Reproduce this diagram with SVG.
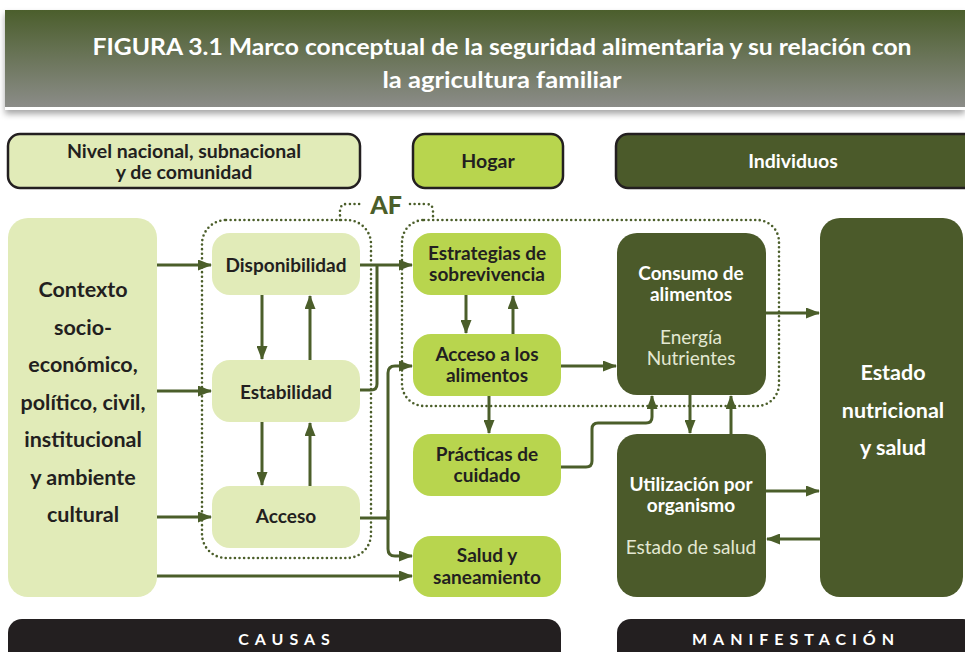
<svg xmlns="http://www.w3.org/2000/svg" width="965" height="652" viewBox="0 0 965 652">
<defs>
<linearGradient id="tg" x1="0" y1="0" x2="0" y2="1">
<stop offset="0" stop-color="#4b5e2c"/>
<stop offset="1" stop-color="#8b8c88"/>
</linearGradient>
<filter id="sh" x="-5%" y="-20%" width="110%" height="150%">
<feDropShadow dx="0" dy="4" stdDeviation="3" flood-color="#000" flood-opacity="0.35"/>
</filter>
<marker id="ah" viewBox="0 0 14 11" refX="13" refY="5.5" markerWidth="14" markerHeight="11" orient="auto" markerUnits="userSpaceOnUse">
<path d="M0,0 L14,5.5 L0,11 Z" fill="#4b5e2a"/>
</marker>
</defs>
<style>
text{font-family:"Lato","Liberation Sans",sans-serif;text-anchor:middle}
.b{font-weight:bold}
.dk{fill:#231f20}
.wh{fill:#ffffff}
.lt{fill:#e3e8d2;font-weight:normal}
.light{fill:#e1ebb8}
.lime{fill:#b8d54e}
.dark{fill:#4b5a2a}
.hdr{stroke:#231f20;stroke-width:2.5}
.bar{fill:#231f20}
.c{fill:none;stroke:#4b5e2a;stroke-width:3;marker-end:url(#ah)}
.cn{fill:none;stroke:#4b5e2a;stroke-width:3}
.dot{fill:none;stroke:#4b5e2a;stroke-width:2.6;stroke-dasharray:0 4.6;stroke-linecap:round}
.t17{font-size:19px}
.th{font-size:19.5px}
.t20{font-size:21.5px}
.sp{font-size:16px;letter-spacing:6px;font-weight:bold}
</style>

<g id="title">
<rect x="5" y="10" width="960" height="100" fill="#ffffff" filter="url(#sh)"/>
<rect x="5" y="10" width="960" height="97" fill="url(#tg)"/>
<text x="502" y="55" class="b wh" font-size="23" textLength="819" lengthAdjust="spacingAndGlyphs">FIGURA 3.1  Marco conceptual de la seguridad alimentaria y su relación con</text>
<text x="502" y="88" class="b wh" font-size="23" textLength="239" lengthAdjust="spacingAndGlyphs">la agricultura familiar</text>
</g>

<g id="hdr-nivel">
<rect x="8" y="134" width="352" height="54" rx="12" class="light hdr"/>
<text x="184" y="158" class="b dk th">Nivel nacional, subnacional</text>
<text x="184" y="179" class="b dk th">y de comunidad</text>
</g>
<g id="hdr-hogar">
<rect x="413" y="134" width="150" height="54" rx="12" class="lime hdr"/>
<text x="488" y="168" class="b dk th">Hogar</text>
</g>
<g id="hdr-individuos">
<rect x="616" y="134" width="360" height="54" rx="12" class="dark hdr"/>
<text x="793" y="168" class="b wh th">Individuos</text>
</g>

<g id="af">
<rect x="202" y="220" width="169" height="338" rx="24" class="dot"/>
<rect x="402" y="220" width="377" height="186" rx="22" class="dot"/>
<path d="M340,220 V211 Q340,204 347,204 H363" class="dot"/>
<path d="M410,204 H426 Q433,204 433,211 V220" class="dot"/>
<text x="386" y="214" font-weight="900" font-size="25" fill="#4b5e2a">AF</text>
</g>

<g id="contexto">
<rect x="8" y="218" width="149" height="379" rx="20" class="light"/>
<text x="83" y="297" class="b dk t20">Contexto</text>
<text x="83" y="334.5" class="b dk t20">socio-</text>
<text x="83" y="372" class="b dk t20">económico,</text>
<text x="83" y="409.5" class="b dk t20">político, civil,</text>
<text x="83" y="447" class="b dk t20">institucional</text>
<text x="83" y="484.5" class="b dk t20">y ambiente</text>
<text x="83" y="522" class="b dk t20">cultural</text>
</g>

<g id="disponibilidad">
<rect x="212" y="233" width="148" height="62" rx="18" class="light"/>
<text x="286" y="272" class="b dk t17">Disponibilidad</text>
</g>
<g id="estabilidad">
<rect x="212" y="360" width="148" height="62" rx="18" class="light"/>
<text x="286" y="399" class="b dk t17">Estabilidad</text>
</g>
<g id="acceso">
<rect x="212" y="486" width="148" height="62" rx="18" class="light"/>
<text x="286" y="523" class="b dk t17">Acceso</text>
</g>

<g id="estrategias">
<rect x="413" y="233" width="148" height="62" rx="18" class="lime"/>
<text x="487" y="260" class="b dk t17">Estrategias de</text>
<text x="487" y="281" class="b dk t17">sobrevivencia</text>
</g>
<g id="acceso-alimentos">
<rect x="413" y="334" width="148" height="62" rx="18" class="lime"/>
<text x="487" y="361" class="b dk t17">Acceso a los</text>
<text x="487" y="382" class="b dk t17">alimentos</text>
</g>
<g id="practicas">
<rect x="413" y="434" width="148" height="62" rx="18" class="lime"/>
<text x="487" y="461" class="b dk t17">Prácticas de</text>
<text x="487" y="482" class="b dk t17">cuidado</text>
</g>
<g id="salud">
<rect x="413" y="536" width="148" height="61" rx="18" class="lime"/>
<text x="487" y="562" class="b dk t17">Salud y</text>
<text x="487" y="584" class="b dk t17">saneamiento</text>
</g>

<g id="consumo">
<rect x="617" y="233" width="149" height="162" rx="20" class="dark"/>
<text x="691" y="280" class="b wh t17">Consumo de</text>
<text x="691" y="301" class="b wh t17">alimentos</text>
<text x="691" y="344" class="lt t17">Energía</text>
<text x="691" y="365" class="lt t17">Nutrientes</text>
</g>
<g id="utilizacion">
<rect x="617" y="434" width="149" height="163" rx="20" class="dark"/>
<text x="691" y="491" class="b wh t17">Utilización por</text>
<text x="691" y="512" class="b wh t17">organismo</text>
<text x="691" y="554" class="lt t17">Estado de salud</text>
</g>
<g id="estado">
<rect x="820" y="218" width="143" height="379" rx="20" class="dark"/>
<text x="893" y="380" class="b wh t20">Estado</text>
<text x="893" y="418" class="b wh t20">nutricional</text>
<text x="893" y="455" class="b wh t20">y salud</text>
</g>

<g id="connectors">
<path d="M157,265 H211" class="c"/>
<path d="M157,391 H211" class="c"/>
<path d="M157,517 H211" class="c"/>
<path d="M157,576 H412" class="c"/>
<path d="M262,295 V359" class="c"/>
<path d="M310,360 V296" class="c"/>
<path d="M262,422 V485" class="c"/>
<path d="M310,486 V423" class="c"/>
<path d="M360,265 H412" class="c"/>
<path d="M360,390 H371 Q377,390 377,384 V265" class="cn"/>
<path d="M360,518 H388" class="cn"/>
<path d="M388,520 V373 Q388,366 395,366 H412" class="c"/>
<path d="M388,510 V549 Q388,556 395,556 H412" class="c"/>
<path d="M466,295 V333" class="c"/>
<path d="M513,334 V296" class="c"/>
<path d="M489,396 V433" class="c"/>
<path d="M561,366 H616" class="c"/>
<path d="M561,467 H586 Q592,467 592,461 V429 Q592,423 598,423 H646 Q652,423 652,417 V396" class="c"/>
<path d="M766,313 H819" class="c"/>
<path d="M690,395 V433" class="c"/>
<path d="M731,434 V396" class="c"/>
<path d="M766,491 H819" class="c"/>
<path d="M820,539 H767" class="c"/>
</g>

<g id="causas">
<rect x="8" y="619" width="553" height="50" rx="14" class="bar"/>
<text x="287" y="645" class="sp wh">CAUSAS</text>
</g>
<g id="manifestacion">
<rect x="617" y="619" width="360" height="50" rx="14" class="bar"/>
<text x="796" y="645" class="sp wh">MANIFESTACIÓN</text>
</g>
</svg>
